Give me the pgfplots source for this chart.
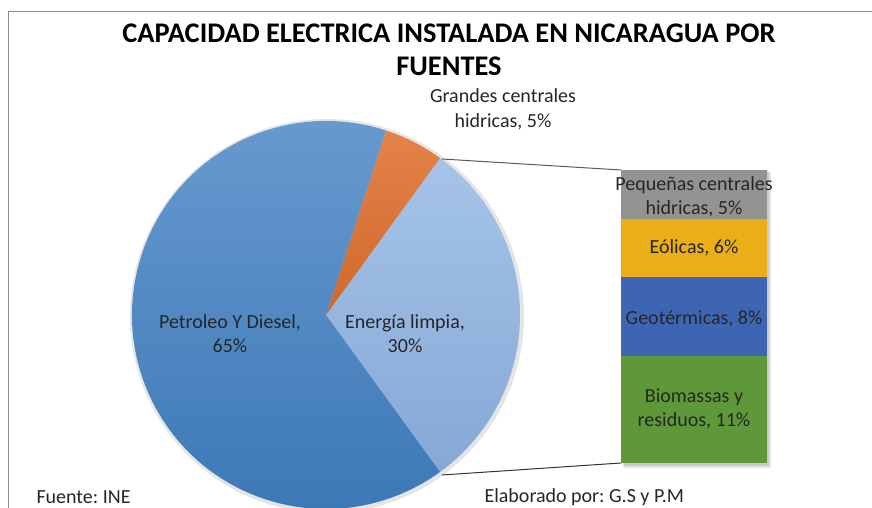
\documentclass[border=0pt]{standalone}
\usepackage{fontspec}
\setmainfont{Carlito}
\usepackage{pgfplots}
\pgfplotsset{compat=1.18}
\frenchspacing

% pie slice colours (top / bottom of the gradient)
\definecolor{petA}{HTML}{6A9BD0}
\definecolor{petB}{HTML}{3B78B6}
\definecolor{orA}{HTML}{E4834A}
\definecolor{orB}{HTML}{D0682A}
\definecolor{liA}{HTML}{A6C4E8}
\definecolor{liB}{HTML}{86A8D6}
% bar segment colours
\definecolor{grM}{HTML}{939393}
\definecolor{goM}{HTML}{E9AE18}
\definecolor{blM}{HTML}{3E65B3}
\definecolor{gnM}{HTML}{5E9838}
\definecolor{txt}{HTML}{262626}

\tikzset{lab/.style={font=\fontsize{20}{24.5}\selectfont, text=txt, align=center}}

% pie: Petroleo y Diesel 65, Grandes centrales hidricas 5, Energia limpia 30
\def\vPet{65}
\def\vGra{5}
\def\vLim{30}
\pgfmathsetmacro\aA{-\vLim*3.6/2}
\pgfmathsetmacro\aB{\aA+\vLim*3.6}
\pgfmathsetmacro\aC{\aB+\vGra*3.6}
\pgfmathsetmacro\aD{\aC+\vPet*3.6}

\newcommand\slice[4]{%
  \shade[top color=#3,bottom color=#4] (axis cs:326,193) -- ++(#1:194pt)
    arc[start angle=#1,end angle=#2,radius=194pt] -- cycle;}

\begin{document}
\begin{tikzpicture}
\useasboundingbox (0,0) rectangle (872pt,508pt);
\begin{axis}[
  at={(0,0)}, anchor=south west,
  scale only axis, width=872pt, height=508pt,
  xmin=0, xmax=872, ymin=0, ymax=508,
  hide axis, clip=false,
]
% frame
\draw[color=black!45, line width=0.8pt] (axis cs:8,-5) -- (axis cs:8,497) -- (axis cs:880,497);

% title
\node[font=\fontsize{28.4}{32}\selectfont\bfseries] at (axis cs:449,475) {CAPACIDAD ELECTRICA INSTALADA EN NICARAGUA POR};
\node[font=\fontsize{28.4}{32}\selectfont\bfseries] at (axis cs:449,442) {FUENTES};

% soft shadow round the pie
\fill[black, opacity=0.10] (axis cs:327,192) circle[radius=197pt];

% pie slices
\slice{\aA}{\aB}{liA}{liB}
\slice{\aB}{\aC}{orA}{orB}
\slice{\aC}{\aD}{petA}{petB}

% connector lines
\draw[color=black!65, line width=1pt] (axis cs:442,349) -- (axis cs:621,338);
\draw[color=black!80, line width=1pt] (axis cs:442,33) -- (axis cs:621,45);

% bar shadow
\fill[black, opacity=0.10] (axis cs:624,40) rectangle (axis cs:771,336);
\fill[black, opacity=0.12] (axis cs:623,42) rectangle (axis cs:769,337);

% labels
\node[lab] at (axis cs:503,398.5) {Grandes centrales\\hidricas, 5\%};
\node[lab] at (axis cs:230,174.5) {Petroleo Y Diesel,\\65\%};
\node[lab] at (axis cs:405,174.5) {Energía limpia,\\30\%};
\node[lab, anchor=west] at (axis cs:33,11) {Fuente: INE};
\node[lab, anchor=west] at (axis cs:481,11) {Elaborado por: G.S y P.M};
\end{axis}

% bar of the 30 % clean energy share
\begin{axis}[
  at={(621pt,45pt)}, anchor=south west,
  scale only axis, width=146pt, height=293pt,
  xmin=-0.5, xmax=0.5, ymin=0, ymax=30,
  ybar stacked, bar width=1,
  hide axis, clip=false,
]
\addplot[draw=none, fill=gnM] coordinates {(0,11)};
\addplot[draw=none, fill=blM] coordinates {(0,8)};
\addplot[draw=none, fill=goM] coordinates {(0,6)};
\addplot[draw=none, fill=grM] coordinates {(0,5)};
\end{axis}

% labels on the bar, set after it so they stay on top
\node[lab] at (694pt,311pt) {Pequeñas centrales\\hidricas, 5\%};
\node[lab] at (694pt,260pt) {Eólicas, 6\%};
\node[lab] at (694pt,189pt) {Geotérmicas, 8\%};
\node[lab] at (694pt,99pt) {Biomassas y\\residuos, 11\%};
\end{tikzpicture}
\end{document}
